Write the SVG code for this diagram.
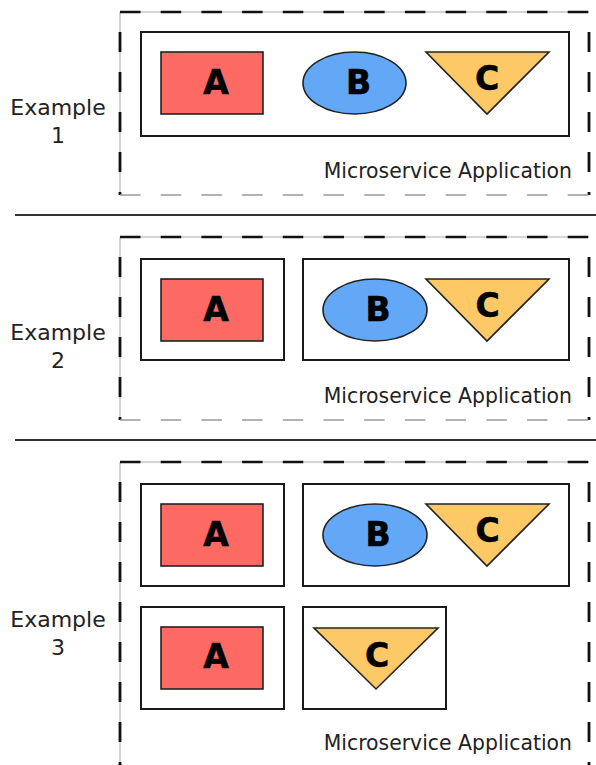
<svg xmlns="http://www.w3.org/2000/svg" width="596" height="765" viewBox="0 0 596 765">
<style>
  .lbl { font-family: "DejaVu Sans", "Liberation Sans", sans-serif; font-size: 22px; fill: #222; text-anchor: middle; }
  .app { font-family: "DejaVu Sans", "Liberation Sans", sans-serif; font-size: 20.4px; fill: #222; text-anchor: end; }
  .let { font-family: "DejaVu Sans", "Liberation Sans", sans-serif; font-size: 33px; font-weight: bold; fill: #000; text-anchor: middle; stroke: #000; stroke-width: 0.6; }
  .box { fill: none; stroke: #1a1a1a; stroke-width: 2; }
  .a { fill: #fd6a64; stroke: #222; stroke-width: 1.6; }
  .b { fill: #62a8f7; stroke: #222; stroke-width: 1.6; }
  .c { fill: #fdc866; stroke: #222; stroke-width: 1.6; stroke-linejoin: miter; }
  .thin { fill: none; stroke: #aaa; stroke-width: 1; }
  .dh { fill: none; stroke: #111; stroke-width: 2.6; stroke-dasharray: 20.5 20.2; }
  .dv { fill: none; stroke: #111; stroke-width: 2.8; stroke-dasharray: 20 20; stroke-dashoffset: 20; }
  .db { fill: none; stroke: #999; stroke-width: 1.5; stroke-dasharray: 20.5 20.2; }
  .sep { stroke: #333; stroke-width: 2; }
</style>

<g id="separators">
  <line class="sep" x1="15" y1="215" x2="596" y2="215"/>
  <line class="sep" x1="15" y1="440" x2="596" y2="440"/>
</g>

<g id="example1">
  <text class="lbl" x="58" y="115">Example</text>
  <text class="lbl" x="58" y="143">1</text>
  <g id="app1">
    <path class="thin" d="M120,195 V12 H589"/>
    <path class="dh" d="M120,12 H589"/>
    <path class="dv" d="M120,12 V195"/>
    <path class="dv" d="M589,12 V195"/>
    <path class="db" d="M120,195 H589"/>
    <text class="app" x="572" y="178">Microservice Application</text>
  </g>
  <g id="ex1-box">
    <rect class="box" x="141" y="32" width="428" height="104"/>
  </g>
  <g id="ex1-A">
    <rect class="a" x="161" y="52" width="102" height="62"/>
    <text class="let" x="216" y="94">A</text>
  </g>
  <g id="ex1-B">
    <ellipse class="b" cx="354.5" cy="83" rx="51.5" ry="31"/>
    <text class="let" x="358.5" y="94">B</text>
  </g>
  <g id="ex1-C">
    <polygon class="c" points="426,52 549,52 487,114"/>
    <text class="let" x="487" y="90">C</text>
  </g>
</g>

<g id="example2">
  <text class="lbl" x="58" y="340">Example</text>
  <text class="lbl" x="58" y="368">2</text>
  <g id="app2">
    <path class="thin" d="M120,420 V237 H589"/>
    <path class="dh" d="M120,237 H589"/>
    <path class="dv" d="M120,237 V420"/>
    <path class="dv" d="M589,237 V420"/>
    <path class="db" d="M120,420 H589"/>
    <text class="app" x="572" y="403">Microservice Application</text>
  </g>
  <g id="ex2-box1">
    <rect class="box" x="141" y="259" width="143" height="101"/>
  </g>
  <g id="ex2-box2">
    <rect class="box" x="303" y="259" width="266" height="101"/>
  </g>
  <g id="ex2-A">
    <rect class="a" x="161" y="279" width="102" height="62"/>
    <text class="let" x="216" y="321">A</text>
  </g>
  <g id="ex2-B">
    <ellipse class="b" cx="375" cy="310" rx="52" ry="31"/>
    <text class="let" x="378" y="321">B</text>
  </g>
  <g id="ex2-C">
    <polygon class="c" points="426,279 549,279 487,341"/>
    <text class="let" x="487.5" y="317">C</text>
  </g>
</g>

<g id="example3">
  <text class="lbl" x="58" y="627">Example</text>
  <text class="lbl" x="58" y="655">3</text>
  <g id="app3">
    <path class="thin" d="M120,800 V462 H589"/>
    <path class="dh" d="M120,462 H589"/>
    <path class="dv" d="M120,462 V800"/>
    <path class="dv" d="M589,462 V800"/>
    <text class="app" x="572" y="750">Microservice Application</text>
  </g>
  <g id="ex3-box1">
    <rect class="box" x="141" y="484" width="143" height="102"/>
  </g>
  <g id="ex3-box2">
    <rect class="box" x="303" y="484" width="266" height="102"/>
  </g>
  <g id="ex3-box3">
    <rect class="box" x="141" y="607" width="143" height="102"/>
  </g>
  <g id="ex3-box4">
    <rect class="box" x="303" y="607" width="143" height="102"/>
  </g>
  <g id="ex3-A1">
    <rect class="a" x="161" y="504" width="102" height="62"/>
    <text class="let" x="216" y="546">A</text>
  </g>
  <g id="ex3-B">
    <ellipse class="b" cx="375" cy="535" rx="52" ry="31"/>
    <text class="let" x="378" y="546">B</text>
  </g>
  <g id="ex3-C1">
    <polygon class="c" points="426,504 549,504 487,566"/>
    <text class="let" x="487.5" y="542">C</text>
  </g>
  <g id="ex3-A2">
    <rect class="a" x="161" y="627" width="102" height="62"/>
    <text class="let" x="216" y="668">A</text>
  </g>
  <g id="ex3-C2">
    <polygon class="c" points="314,628 438,628 376,689"/>
    <text class="let" x="377" y="667">C</text>
  </g>
</g>
</svg>
